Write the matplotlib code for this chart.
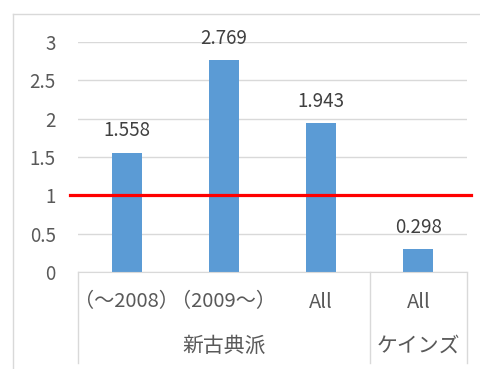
import matplotlib.pyplot as plt
from matplotlib.transforms import blended_transform_factory

plt.rcParams['font.family'] = ['Noto Sans CJK JP', 'DejaVu Sans']

# data
categories = ['（～2008）', '（2009～）', 'All', 'All']
values = [1.558, 2.769, 1.943, 0.298]
groups = ['新古典派', 'ケインズ']
group_spans = [(0, 2), (3, 3)]
ref_value = 1
yticks = [0, 0.5, 1, 1.5, 2, 2.5, 3]

W, H = 481, 369
fig = plt.figure(figsize=(W / 100, H / 100), dpi=100)
ax = fig.add_axes([78 / W, (H - 272) / H, (467 - 78) / W, (272 - 42) / H])

grid_c = '#D9D9D9'
text_c = '#595959'

x = list(range(len(values)))
ax.bar(x, values, width=0.31, color='#5B9BD5', zorder=2)
ax.set_xlim(-0.5, len(values) - 0.5)
ax.set_ylim(0, 3)
ax.set_yticks(yticks)
ax.set_yticklabels([f'{t:g}' for t in yticks])
ax.tick_params(axis='y', length=0, pad=16, labelsize=13.5, labelcolor=text_c)
ax.set_xticks([])
ax.grid(axis='y', color=grid_c, linewidth=1, zorder=0)
for s in ['top', 'right', 'left']:
    ax.spines[s].set_visible(False)
ax.spines['bottom'].set_color(grid_c)

# data labels
for xi, v in zip(x, values):
    ax.annotate(f'{v:.3f}', (xi, v), xytext=(0, 8), textcoords='offset points',
                ha='center', va='bottom', fontsize=13.5, color='#404040')

# reference line
ax.plot([-0.58, 3.54], [ref_value, ref_value], color='#FF0000', linewidth=2.3,
        clip_on=False, zorder=3)

# multi-level category axis
tr = blended_transform_factory(ax.transData, fig.transFigure)
for xs in [-0.5, 2.5, 3.5]:
    ax.plot([xs, xs], [(H - 272) / H, (H - 363) / H], color=grid_c, linewidth=1,
            transform=tr, clip_on=False)
for xi, c in zip(x, categories):
    ax.text(xi, (H - 302) / H, c, ha='center', va='center', fontsize=14.5,
            color=text_c, transform=tr)
for g, (a, b) in zip(groups, group_spans):
    ax.text((a + b) / 2, (H - 346) / H, g, ha='center', va='center', fontsize=15,
            color=text_c, transform=tr)

# chart border
fig.add_artist(plt.Line2D([13 / W, 13 / W], [0, (H - 14) / H], color=grid_c, linewidth=1))
fig.add_artist(plt.Line2D([13 / W, 1], [(H - 14) / H, (H - 14) / H], color=grid_c, linewidth=1))

fig.savefig('out.png', dpi=100)
